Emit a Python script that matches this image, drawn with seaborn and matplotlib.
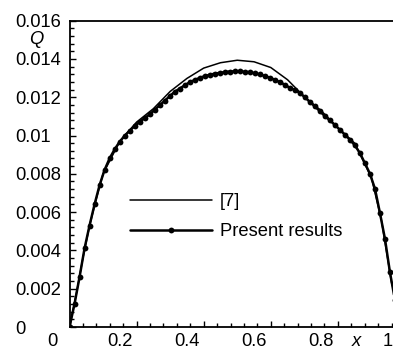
import numpy as np
import pandas as pd
import matplotlib
matplotlib.use("Agg")
import matplotlib.pyplot as plt
import matplotlib.transforms as mtransforms
from matplotlib.ticker import FixedLocator, FixedFormatter, MultipleLocator
import seaborn as sns

# ---- data ----
x_ref7 = [0.0, 0.02, 0.04, 0.06, 0.08, 0.10, 0.15, 0.20, 0.25, 0.30, 0.35, 0.40,
          0.45, 0.50, 0.55, 0.60, 0.65, 0.70, 0.75, 0.80, 0.85, 0.90, 0.93, 0.96, 1.0]
q_ref7 = [0.0, 0.0017, 0.0036, 0.0053, 0.0067, 0.0080, 0.0097, 0.0107, 0.01140,
          0.01230, 0.01298, 0.01352, 0.01380, 0.01393, 0.01385, 0.01355, 0.01291,
          0.01202, 0.01130, 0.01040, 0.00960, 0.00780, 0.00555, 0.00230, 0.0]

x_present = np.linspace(0.0, 1.0, 68)
q_present = [0.0, 0.0012, 0.0026, 0.0041, 0.0053, 0.0064, 0.0074, 0.0082, 0.0088,
             0.00927, 0.00967, 0.00998, 0.01025, 0.01049, 0.01071, 0.01091, 0.01110,
             0.01134, 0.01158, 0.01181, 0.01205, 0.01228, 0.01245, 0.01262, 0.01278,
             0.01290, 0.01301, 0.01310, 0.01317, 0.01323, 0.01327, 0.01331, 0.01334,
             0.01335, 0.01335, 0.01333, 0.01330, 0.01325, 0.01319, 0.01311, 0.01302,
             0.01291, 0.01279, 0.01265, 0.01249, 0.01238, 0.01222, 0.01200, 0.01175,
             0.01152, 0.01127, 0.01101, 0.01079, 0.01055, 0.01030, 0.01004, 0.00978,
             0.00948, 0.00908, 0.00855, 0.00800, 0.00722, 0.00595, 0.00460, 0.00285,
             0.00140, 0.00050, 0.0]

x_ticks = [0.0, 0.2, 0.4, 0.6, 0.8, 1.0]
x_tick_labels = ["0", "0.2", "0.4", "0.6", "0.8", "1"]
y_ticks = [0.0, 0.002, 0.004, 0.006, 0.008, 0.010, 0.012, 0.014, 0.016]
y_tick_labels = ["0", "0.002", "0.004", "0.006", "0.008", "0.01", "0.012", "0.014", "0.016"]
series_labels = ["[7]", "Present results"]

# ---- style ----
sns.set_style("ticks")
plt.rcParams["font.family"] = ["Liberation Sans", "DejaVu Sans"]
FS = 13.2

fig = plt.figure(figsize=(3.93, 3.49), dpi=100)
fig.patch.set_facecolor("white")
W, H = 393.0, 349.0
# axes geometry: x=0 at 69.5px, x=1 at 405px (beyond the image), y=0 at 327px, y=0.016 at 20.6px
ax = fig.add_axes([69.5 / W, (H - 327.0) / H, 335.5 / W, 306.4 / H])
ax.set_facecolor("white")

df7 = pd.DataFrame({"x": x_ref7, "Q": q_ref7})
dfp = pd.DataFrame({"x": x_present, "Q": q_present})
sns.lineplot(data=df7, x="x", y="Q", ax=ax, color="black", linewidth=1.1,
             label=series_labels[0], sort=False)
sns.lineplot(data=dfp, x="x", y="Q", ax=ax, color="black", linewidth=1.8,
             marker="o", markersize=4.2, markeredgewidth=0,
             label=series_labels[1], sort=False)

ax.set_xlim(0, 1)
ax.set_ylim(0, 0.016)

ax.xaxis.set_major_locator(FixedLocator(x_ticks))
ax.xaxis.set_major_formatter(FixedFormatter(x_tick_labels))
ax.xaxis.set_minor_locator(MultipleLocator(0.04))
ax.yaxis.set_major_locator(FixedLocator(y_ticks))
ax.yaxis.set_major_formatter(FixedFormatter(y_tick_labels))
ax.yaxis.set_minor_locator(MultipleLocator(0.0004))

ax.tick_params(which="both", direction="in", color="black", width=1.0,
               labelsize=FS, labelcolor="black", top=False, right=False)
ax.tick_params(which="major", length=4.5)
ax.tick_params(which="minor", length=2.6)
ax.tick_params(axis="x", which="major", pad=4)
ax.tick_params(axis="y", which="major", pad=5)

for side in ["left", "top", "bottom"]:
    ax.spines[side].set_color("black")
    ax.spines[side].set_linewidth(1.3)
ax.spines["right"].set_visible(False)

# x tick labels sit to the left of their ticks in the reference
offset_x = mtransforms.ScaledTranslation(-17 / 100.0, 0, fig.dpi_scale_trans)
for lab in ax.get_xticklabels():
    lab.set_transform(lab.get_transform() + offset_x)
# y tick labels are left-aligned at about x=15px
anchor_px = 69.5 - 5 * 100 / 72.0
offset_y = mtransforms.ScaledTranslation(-(anchor_px - 15) / 100.0, 0, fig.dpi_scale_trans)
for lab in ax.get_yticklabels():
    lab.set_horizontalalignment("left")
    lab.set_transform(lab.get_transform() + offset_y)

ax.set_xlabel("x", fontsize=FS, fontstyle="italic", color="black")
ax.xaxis.set_label_coords((356 - 69.5) / 335.5, (327 - 342) / 306.4)
ax.xaxis.label.set_va("center")
ax.set_ylabel("Q", fontsize=FS, fontstyle="italic", color="black", rotation=0)
ax.yaxis.set_label_coords((36 - 69.5) / 335.5, (327 - 39) / 306.4)
ax.yaxis.label.set_va("center")
ax.yaxis.label.set_ha("center")

leg = ax.legend(loc="upper left", bbox_to_anchor=((130 - 69.5) / 335.5, (327 - 193) / 306.4),
                frameon=False, fontsize=FS, handlelength=4.45, handletextpad=0.45,
                labelspacing=0.72, borderpad=0, borderaxespad=0, numpoints=1)
for t in leg.get_texts():
    t.set_color("black")

fig.savefig("out.png", dpi=100, facecolor="white")
